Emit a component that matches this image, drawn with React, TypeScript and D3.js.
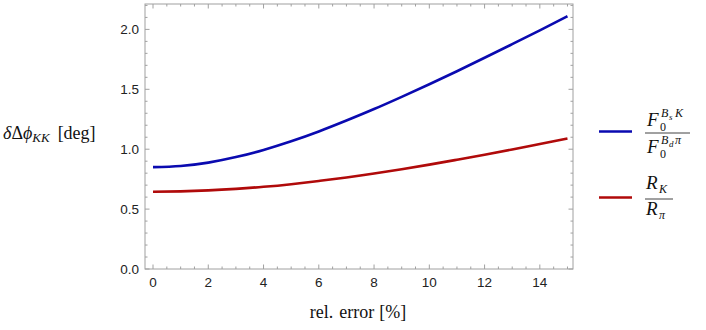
import React from "react"
import * as d3 from "d3"

// rel. error [%]
const relError = [0, 1, 2, 3, 4, 5, 6, 7, 8, 9, 10, 11, 12, 13, 14, 15]
// F0^{BsK}/F0^{Bdπ}
const blueVals = [0.85, 0.86, 0.888, 0.934, 0.994, 1.066, 1.148, 1.239, 1.335, 1.437, 1.542, 1.651, 1.763, 1.877, 1.992, 2.11]
// R_K / R_pi
const redVals = [0.645, 0.648, 0.656, 0.669, 0.686, 0.708, 0.735, 0.764, 0.797, 0.833, 0.871, 0.912, 0.954, 0.998, 1.044, 1.09]

const xMajor = [0, 2, 4, 6, 8, 10, 12, 14]
const yMajor = [0, 0.5, 1, 1.5, 2]

const W = 706
const H = 330
const left = 145, right = 573, top = 4, bottom = 269

const frameCol = "#a0a0a0"
const blue = "#0a0ab0"
const red = "#b00a0a"
const serif = "'Liberation Serif', 'DejaVu Serif', serif"
const sans = "'Liberation Sans', Arial, sans-serif"

export default function App() {
    const x = d3.scaleLinear().domain([-0.29, 15.2]).range([left, right])
    const y = d3.scaleLinear().domain([0, 2.212]).range([bottom, top])

    const line = d3
        .line<number>()
        .x((d, i) => x(relError[i]))
        .y(d => y(d))
        .curve(d3.curveNatural)

    const xMinor = d3.range(0, 15.01, 0.5).filter(v => !xMajor.includes(v))
    const yMinor = d3.range(0, 2.201, 0.1).map(v => Math.round(v * 10) / 10).filter(v => !yMajor.includes(v))

    const major = 4.5
    const minor = 2.5

    return (
        <svg width={W} height={H} style={{ position: "absolute", left: 0, top: 0 }}>
            <rect x={0} y={0} width={W} height={H} fill="white" />
            {/* frame */}
            <rect x={left} y={top} width={right - left} height={bottom - top} fill="none" stroke={frameCol} strokeWidth={1} />
            {/* x ticks, bottom and top, inward */}
            {xMajor.map(v => (
                <g key={"xm" + v}>
                    <line x1={x(v)} x2={x(v)} y1={bottom} y2={bottom - major} stroke={frameCol} />
                    <line x1={x(v)} x2={x(v)} y1={top} y2={top + major} stroke={frameCol} />
                    <text x={x(v)} y={287} textAnchor="middle" fontFamily={sans} fontSize={13.5} fill="#222">{v}</text>
                </g>
            ))}
            {xMinor.map(v => (
                <g key={"xn" + v}>
                    <line x1={x(v)} x2={x(v)} y1={bottom} y2={bottom - minor} stroke={frameCol} />
                    <line x1={x(v)} x2={x(v)} y1={top} y2={top + minor} stroke={frameCol} />
                </g>
            ))}
            {/* y ticks, left and right */}
            {yMajor.map(v => (
                <g key={"ym" + v}>
                    <line x1={left} x2={left + major} y1={y(v)} y2={y(v)} stroke={frameCol} />
                    <line x1={right} x2={right - major} y1={y(v)} y2={y(v)} stroke={frameCol} />
                    <text x={139} y={y(v) + 4.8} textAnchor="end" fontFamily={sans} fontSize={13.5} fill="#222">{v.toFixed(1)}</text>
                </g>
            ))}
            {yMinor.map(v => (
                <g key={"yn" + v}>
                    <line x1={left} x2={left + minor} y1={y(v)} y2={y(v)} stroke={frameCol} />
                    <line x1={right} x2={right - minor} y1={y(v)} y2={y(v)} stroke={frameCol} />
                </g>
            ))}

            {/* curves */}
            <path d={line(redVals) || ""} fill="none" stroke={red} strokeWidth={2.6} />
            <path d={line(blueVals) || ""} fill="none" stroke={blue} strokeWidth={2.6} />

            {/* axis labels */}
            <text x={358} y={318} textAnchor="middle" fontFamily={serif} fontSize={18} fill="#111">
                <tspan>rel.</tspan>
                <tspan dx={6}>error</tspan>
                <tspan dx={5}>[%]</tspan>
            </text>
            <text x={3} y={139} fontFamily={serif} fontSize={18} fill="#111">
                <tspan fontStyle="italic">δ</tspan>
                <tspan>Δ</tspan>
                <tspan fontStyle="italic">ϕ</tspan>
                <tspan fontStyle="italic" fontSize={13} dy={3}>KK</tspan>
                <tspan dy={-3} dx={8}>[deg]</tspan>
            </text>

            {/* legend */}
            <line x1={599} x2={632} y1={131.5} y2={131.5} stroke={blue} strokeWidth={2.6} />
            <g fontFamily={serif} fill="#111">
                <text x={647} y={126} fontSize={19} fontStyle="italic">F</text>
                <text x={660} y={131} fontSize={12}>0</text>
                <text x={661} y={117} fontSize={12} fontStyle="italic">B</text>
                <text x={669} y={119.5} fontSize={9} fontStyle="italic">s</text>
                <text x={675} y={117} fontSize={12} fontStyle="italic">K</text>
                <line x1={645} x2={690} y1={133} y2={133} stroke="#111" strokeWidth={0.8} />
                <text x={647} y={153} fontSize={19} fontStyle="italic">F</text>
                <text x={660} y={158} fontSize={12}>0</text>
                <text x={661} y={144} fontSize={12} fontStyle="italic">B</text>
                <text x={669} y={146.5} fontSize={9} fontStyle="italic">d</text>
                <text x={675} y={144} fontSize={12} fontStyle="italic">π</text>
            </g>
            <line x1={599} x2={632} y1={197.5} y2={197.5} stroke={red} strokeWidth={2.6} />
            <g fontFamily={serif} fill="#111">
                <text x={646} y={189} fontSize={19} fontStyle="italic">R</text>
                <text x={659} y={192.5} fontSize={12} fontStyle="italic">K</text>
                <line x1={645} x2={673} y1={199} y2={199} stroke="#111" strokeWidth={0.8} />
                <text x={646} y={215} fontSize={19} fontStyle="italic">R</text>
                <text x={659} y={218.5} fontSize={12} fontStyle="italic">π</text>
            </g>
        </svg>
    )
}
